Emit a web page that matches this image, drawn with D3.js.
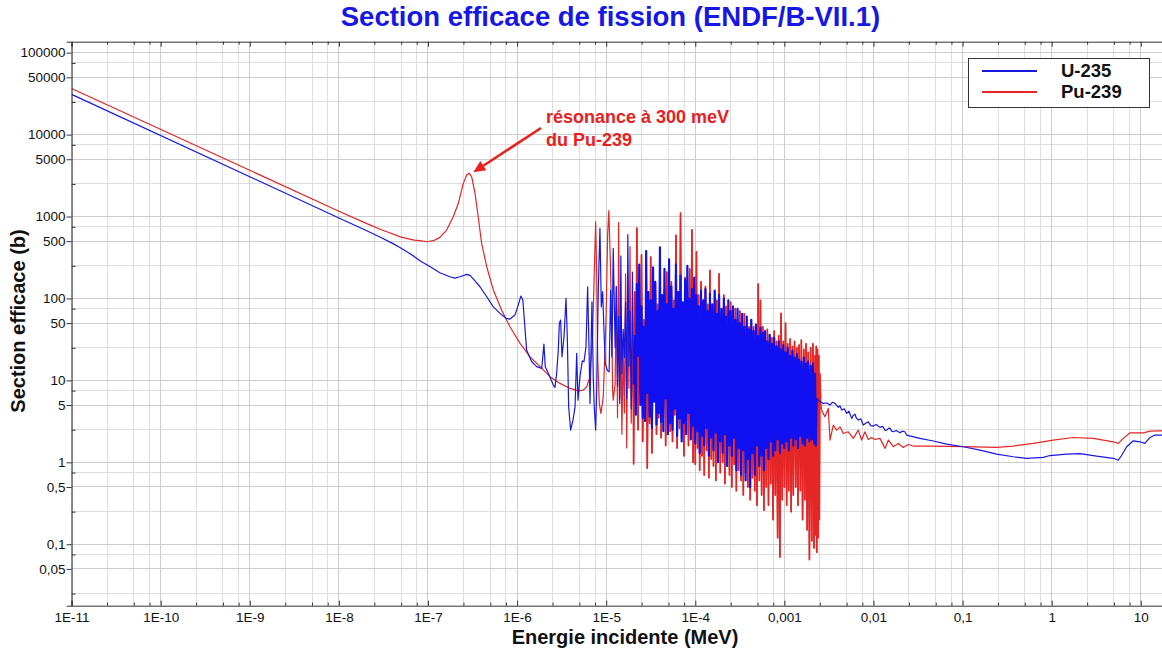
<!DOCTYPE html>
<html><head><meta charset="utf-8">
<script src="https://cdn.jsdelivr.net/npm/d3@7"></script>
<style>
body{margin:0;background:#fff;}
svg{display:block;font-family:"Liberation Sans",Arial,Helvetica,sans-serif;}
</style>
</head><body>
<svg id="chart" width="1162" height="648"></svg>
<script>
// ---------- texts ----------
const titleText = "Section efficace de fission (ENDF/B-VII.1)";
const xTitle = "Energie incidente (MeV)";
const yTitle = "Section efficace (b)";
const seriesNames = ["U-235", "Pu-239"];
const annotationLines = ["résonance à 300 meV", "du Pu-239"];

// ---------- tick labels ----------
const xTickValues = [1e-11,1e-10,1e-9,1e-8,1e-7,1e-6,1e-5,1e-4,1e-3,1e-2,1e-1,1,10];
const xTickLabels = ["1E-11","1E-10","1E-9","1E-8","1E-7","1E-6","1E-5","1E-4","0,001","0,01","0,1","1","10"];
const yTickValues = [100000,50000,10000,5000,1000,500,100,50,10,5,1,0.5,0.1,0.05];
const yTickLabels = ["100000","50000","10000","5000","1000","500","100","50","10","5","1","0,5","0,1","0,05"];

// ---------- data: energy (MeV), cross-section (b) ----------
const u235Thermal = [
[1e-11,31000],[1e-8,960],[2e-8,680],[3e-8,550],[4e-8,470],[5e-8,410],[6.5e-8,345],[8.13e-8,289],[1.06e-7,244],[1.36e-7,206],
[1.76e-7,184],[2.00e-7,177],[2.28e-7,184],[2.72e-7,197],[2.96e-7,191],[3.37e-7,164],[3.83e-7,139],
[4.56e-7,105],[5.41e-7,79],[6.43e-7,65.8],[7.50e-7,57.2],[8.32e-7,56],[9.46e-7,62.7],[1.03e-6,83],
[1.10e-6,107],[1.16e-6,95.7],[1.23e-6,41.1],[1.28e-6,23.4],[1.46e-6,16.9],[1.66e-6,14.7],[1.89e-6,14.0],
[2.00e-6,27.7],[2.07e-6,14.7],[2.24e-6,12.2],[2.55e-6,8.77],[2.66e-6,8.2],[2.78e-6,12.2],[2.90e-6,23.4],
[2.98e-6,49.7],[3.08e-6,54.5],[3.19e-6,19.4],[3.36e-6,34.1],[3.54e-6,100],[3.66e-6,34.1],[3.79e-6,4.76],
[3.99e-6,2.47],[4.24e-6,3.27],[4.47e-6,4.76],[4.67e-6,21.4],[4.82e-6,5.74],[5.08e-6,11.1],[5.39e-6,17.3],
[5.63e-6,16.9],[5.93e-6,25.7],[6.19e-6,139],[6.41e-6,25.7],[6.58e-6,5.24],[6.92e-6,91],[7.16e-6,11.1],
[7.34e-6,4.76],[7.62e-6,2.47],[7.82e-6,7.6],[8.15e-6,126],[8.51e-6,718],[8.81e-6,79],[9.12e-6,121],
[9.44e-6,41],[9.77e-6,16.1],[1.03e-5,13.3],[1.08e-5,12.7],[1.12e-5,126],[1.16e-5,19.4],[1.20e-5,409]
];
const pu239Thermal = [
[1e-11,36500],[1e-8,1160],[2e-8,830],[3e-8,690],[5e-8,560],[7e-8,515],[8.13e-8,507],[9.66e-8,492],
[1.15e-7,507],[1.36e-7,557],[1.62e-7,684],[1.92e-7,994],[2.19e-7,1450],[2.49e-7,2540],[2.72e-7,3210],
[2.91e-7,3370],[3.09e-7,3060],[3.37e-7,1920],[3.66e-7,994],[4.00e-7,471],[4.56e-7,244],[5.41e-7,127],
[6.71e-7,71.7],[8.32e-7,45.1],[1.08e-6,28.3],[1.40e-6,19.4],[1.81e-6,14.7],[2.34e-6,11.1],[3.03e-6,9.19],
[3.93e-6,7.98],[4.86e-6,7.46],[5.53e-6,7.6],[6.04e-6,8.36],[6.58e-6,11.1],[7.05e-6,37.5],[7.43e-6,323],
[7.62e-6,864],[7.82e-6,202],[8.02e-6,19.4],[8.36e-6,5.24],[8.73e-6,3.95],[9.27e-6,6.3],[9.93e-6,49.7],
[1.04e-5,624],[1.07e-5,1180],[1.11e-5,323],[1.15e-5,65.8],[1.18e-5,7.6],[1.20e-5,5.74]
];

// resolved resonance region energies (MeV)
const denseE = [
1.26e-5,1.30e-5,1.34e-5,1.38e-5,1.42e-5,1.46e-5,1.50e-5,1.55e-5,1.60e-5,1.65e-5,
1.70e-5,1.75e-5,1.80e-5,1.85e-5,1.91e-5,1.97e-5,2.03e-5,2.09e-5,2.15e-5,2.21e-5,
2.28e-5,2.35e-5,2.42e-5,2.49e-5,2.57e-5,2.65e-5,2.73e-5,2.81e-5,2.89e-5,2.98e-5,
3.07e-5,3.16e-5,3.26e-5,3.36e-5,3.46e-5,3.56e-5,3.67e-5,3.78e-5,3.89e-5,4.01e-5,
4.13e-5,4.25e-5,4.38e-5,4.51e-5,4.65e-5,4.79e-5,4.93e-5,5.08e-5,5.23e-5,5.39e-5,
5.55e-5,5.72e-5,5.89e-5,6.07e-5,6.25e-5,6.44e-5,6.63e-5,6.83e-5,7.03e-5,7.24e-5,
7.46e-5,7.68e-5,7.91e-5,8.15e-5,8.39e-5,8.64e-5,8.90e-5,9.17e-5,9.45e-5,9.73e-5,
1.00e-4,1.03e-4,1.06e-4,1.09e-4,1.12e-4,1.16e-4,1.19e-4,1.23e-4,1.26e-4,1.30e-4,
1.34e-4,1.38e-4,1.42e-4,1.46e-4,1.51e-4,1.55e-4,1.60e-4,1.65e-4,1.70e-4,1.75e-4,
1.80e-4,1.85e-4,1.91e-4,1.97e-4,2.03e-4,2.09e-4,2.15e-4,2.21e-4,2.28e-4,2.35e-4,
2.42e-4,2.49e-4,2.57e-4,2.65e-4,2.73e-4,2.81e-4,2.89e-4,2.98e-4,3.07e-4,3.16e-4,
3.26e-4,3.36e-4,3.46e-4,3.56e-4,3.67e-4,3.78e-4,3.89e-4,4.01e-4,4.13e-4,4.25e-4,
4.38e-4,4.51e-4,4.65e-4,4.79e-4,4.93e-4,5.08e-4,5.23e-4,5.39e-4,5.55e-4,5.72e-4,
5.89e-4,6.07e-4,6.25e-4,6.44e-4,6.63e-4,6.83e-4,7.03e-4,7.24e-4,7.46e-4,7.68e-4,
7.91e-4,8.15e-4,8.39e-4,8.64e-4,8.90e-4,9.17e-4,9.45e-4,9.73e-4,
1.00e-3,1.03e-3,1.06e-3,1.09e-3,1.12e-3,1.16e-3,1.19e-3,1.23e-3,1.26e-3,1.30e-3,
1.34e-3,1.38e-3,1.42e-3,1.46e-3,1.51e-3,1.55e-3,1.60e-3,1.65e-3,1.70e-3,1.75e-3,
1.80e-3,1.85e-3,1.91e-3,1.97e-3,2.03e-3,2.09e-3,2.15e-3,2.21e-3
];
const u235Dense = [
25,140,8.5,60,5.2,330,12,42,19,90,
6,600,15,70,4.5,210,9,35,3.8,150,
20,260,5,80,3.5,45,3.2,380,7,120,
3.6,95,2.6,240,5.5,160,2.9,70,4,420,
3.1,110,2.4,230,6,85,2.2,300,3,140,
2.5,75,4.5,260,2.1,120,3.4,190,1.8,90,
3,170,2.2,250,4,100,1.9,130,2.8,180,
1.7,110,2.4,80,1.3,125,2.1,95,1.6,130,
2.6,70,1.2,115,2,85,1.4,125,2.3,65,
1,110,1.8,75,1.3,100,2.2,60,0.9,95,
1.6,70,1.2,80,2,55,0.8,75,1.5,50,
0.7,65,1.4,45,0.6,60,1.1,42,0.5,55,
1.3,40,0.7,48,1.6,35,0.9,44,1.2,38,
0.8,40,1.5,30,1.1,36,1.8,28,1.2,33,
1.4,26,1.9,30,1.3,24,1.7,27,1.5,22,
1.8,25,1.4,20,2,23,1.6,19,1.9,21,
1.5,18,2.1,17,1.7,19,1.6,16,2,17,
1.8,15,1.9,16,1.7,12
];
const pu239Dense = [
9,140,3.5,850,6,60,2.2,25,4,200,
1.5,70,8,430,3,35,0.95,120,5,720,
2.5,90,7,340,1.8,55,4,180,0.85,65,
3,320,1.3,40,6,150,2.2,85,3.5,240,
2,60,4.5,130,1.6,210,3,75,2.4,160,
1.8,95,3.8,590,1.5,120,2.6,1100,2,70,
1.2,180,3.2,100,1.6,230,2.5,690,1,140,
0.95,370,1.5,110,0.8,160,1.2,90,0.7,140,
1.4,85,0.65,220,1.1,75,0.9,120,0.6,95,
1.3,200,0.75,70,1,110,0.55,80,1.2,65,
0.7,90,0.5,60,0.95,75,0.45,55,0.8,70,
0.6,50,0.4,65,0.75,45,0.5,45,0.35,55,
0.65,45,0.45,40,0.3,150,0.6,95,0.4,45,
0.26,38,0.5,42,0.3,36,0.55,33,0.2,40,
0.4,30,0.12,35,0.07,66,0.35,30,0.5,50,
0.3,28,0.45,32,0.25,26,0.4,30,0.5,25,
0.3,27,0.45,31,0.2,24,0.35,28,0.15,22,
0.065,25,0.11,28,0.09,20
];

const u235Fast = [
[2.25e-3,1.6],[2.30e-3,6],[2.40e-3,5.75],[2.55e-3,5.5],[2.73e-3,5.24],[3.0e-3,5.3],[3.25e-3,5.0],
[3.45e-3,5.4],[3.70e-3,5.24],[4.03e-3,4.68],[4.2e-3,4.9],[4.40e-3,4.34],[4.7e-3,4.5],[5.00e-3,3.95],
[5.3e-3,4.2],[5.69e-3,3.44],[5.9e-3,3.7],[6.19e-3,3.88],[6.4e-3,3.5],[6.75e-3,3.28],[7.2e-3,3.4],
[7.67e-3,2.85],[8.2e-3,3.0],[8.73e-3,3.12],[9.3e-3,2.8],[9.95e-3,2.77],[1.07e-2,2.9],[1.18e-2,2.67],
[1.27e-2,2.75],[1.35e-2,2.45],[1.41e-2,2.47],[1.47e-2,2.6],[1.53e-2,2.62],[1.60e-2,2.4],[1.67e-2,2.36],
[1.80e-2,2.45],[1.98e-2,2.29],[2.10e-2,2.4],[2.25e-2,2.36],[2.35e-2,2.15],[3.32e-2,1.96],[4.69e-2,1.82],
[6.62e-2,1.67],[0.102,1.55],[0.157,1.41],[0.241,1.26],[0.371,1.17],[0.524,1.12],[0.805,1.15],
[0.957,1.21],[1.47,1.26],[2.08,1.28],[3.20,1.19],[4.91,1.12],[5.59,1.06],[6.11,1.22],[6.95,1.55],
[8.25,1.83],[9.80,1.78],[11.1,1.70],[12.7,2.01],[14.4,2.15],[16.4,2.15],[20,2.15]
];
const pu239Fast = [
[2.25e-3,0.13],[2.28e-3,26],[2.31e-3,0.08],[2.35e-3,24],[2.39e-3,0.12],[2.43e-3,20],[2.47e-3,0.2],
[2.50e-3,12],[2.55e-3,6],[2.61e-3,4.34],[2.85e-3,3.59],[3.11e-3,4.55],[3.25e-3,1.87],[3.54e-3,2.85],
[3.86e-3,2.47],[4.21e-3,2.71],[4.58e-3,2.25],[5.21e-3,2.36],[5.93e-3,1.96],[6.75e-3,2.47],[7.36e-3,1.87],
[8.02e-3,2.36],[8.73e-3,1.90],[9.53e-3,2.01],[1.04e-2,1.90],[1.18e-2,1.96],[1.35e-2,1.48],[1.47e-2,1.87],
[1.67e-2,1.55],[1.90e-2,1.70],[2.16e-2,1.52],[2.45e-2,1.65],[2.80e-2,1.58],[4.31e-2,1.58],[0.102,1.55],
[0.241,1.52],[0.371,1.58],[0.622,1.70],[1.04,1.87],[1.75,2.01],[2.93,1.96],[4.91,1.78],[5.59,1.70],
[6.37,1.96],[7.57,2.29],[10.7,2.29],[12.7,2.40],[16.4,2.42],[20,2.42]
];

// annotation target: Pu-239 resonance peak
const resonancePeak = [2.91e-7, 3370];

// ---------- build ----------
const u235DenseZip = d3.zip(denseE, u235Dense);
const pu239DenseZip = d3.zip(denseE, pu239Dense);
const u235 = [...u235Thermal, ...u235DenseZip, ...u235Fast];
const pu239 = [...pu239Thermal, ...pu239DenseZip, ...pu239Fast];
// the densest part of the resolved resonance region is drawn with a heavier stroke
const u235DenseSeg = [...u235DenseZip.slice(16), u235Fast[0], u235Fast[1]];
const pu239DenseSeg = [...pu239DenseZip.slice(16), ...pu239Fast.slice(0,9)];

const colors = {u:"#1818e0", p:"#e42626"};
const P = {left:71.6, right:1162, top:41.7, bottom:605.7};
const svg = d3.select("#chart");

const x = d3.scaleLog().domain([1e-11, 17.3]).range([P.left, P.right]);
const y = d3.scaleLog().domain([0.01778, 136100]).range([P.bottom, P.top]);

// tick sets
const xMinor = [];
for (let k=-11;k<=1;k++) [2.5,5,7.5].forEach(m=>{const v=m*Math.pow(10,k); if(v<=17.3) xMinor.push(v);});
const yMinor = [];
for (let k=-2;k<=5;k++) [2.5,7.5].forEach(m=>{const v=m*Math.pow(10,k); if(v>=0.01778&&v<=136100) yMinor.push(v);});

// grid
const grid = svg.append("g").attr("shape-rendering","crispEdges");
grid.selectAll(".gxm").data(xMinor).join("line")
  .attr("x1",d=>x(d)).attr("x2",d=>x(d)).attr("y1",P.top).attr("y2",P.bottom)
  .attr("stroke","#dedede").attr("stroke-width",1);
grid.selectAll(".gym").data(yMinor).join("line")
  .attr("y1",d=>y(d)).attr("y2",d=>y(d)).attr("x1",P.left).attr("x2",P.right)
  .attr("stroke","#dedede").attr("stroke-width",1);
grid.selectAll(".gx").data(xTickValues).join("line")
  .attr("x1",d=>x(d)).attr("x2",d=>x(d)).attr("y1",P.top).attr("y2",P.bottom)
  .attr("stroke","#cdcdcd").attr("stroke-width",1);
grid.selectAll(".gy").data(yTickValues).join("line")
  .attr("y1",d=>y(d)).attr("y2",d=>y(d)).attr("x1",P.left).attr("x2",P.right)
  .attr("stroke","#cdcdcd").attr("stroke-width",1);

// clip
svg.append("clipPath").attr("id","clip").append("rect")
  .attr("x",P.left).attr("y",P.top).attr("width",P.right-P.left).attr("height",P.bottom-P.top);

const line = d3.line().x(d=>x(d[0])).y(d=>y(d[1]));
const lines = svg.append("g").attr("clip-path","url(#clip)");
lines.append("path").attr("d",line(pu239)).attr("fill","none")
  .attr("stroke",colors.p).attr("stroke-width",1.2).attr("stroke-linejoin","round");
lines.append("path").attr("d",line(pu239DenseSeg)).attr("fill","none")
  .attr("stroke",colors.p).attr("stroke-width",1.7).attr("stroke-linejoin","round");
lines.append("path").attr("d",line(u235)).attr("fill","none")
  .attr("stroke",colors.u).attr("stroke-width",1.2).attr("stroke-linejoin","round");
lines.append("path").attr("d",line(u235DenseSeg)).attr("fill","none")
  .attr("stroke","#1010f0").attr("stroke-width",2.1).attr("stroke-linejoin","round");

// axes
const fs = "13.5px";
const yAxis = svg.append("g").attr("transform",`translate(${P.left},0)`)
  .call(d3.axisLeft(y).tickValues(yTickValues).tickFormat((d,i)=>yTickLabels[i]).tickSize(5).tickPadding(1));
yAxis.selectAll("text").attr("font-size",fs).attr("fill","#111").attr("font-family",'"Liberation Sans",Arial,sans-serif');
const yMinorAx = svg.append("g").attr("transform",`translate(${P.left},0)`)
  .call(d3.axisRight(y).tickValues(yMinor).tickFormat("").tickSize(4));
yMinorAx.select(".domain").remove();

const xAxis = svg.append("g").attr("transform",`translate(0,${P.bottom})`)
  .call(d3.axisBottom(x).tickValues(xTickValues).tickFormat((d,i)=>xTickLabels[i]).tickSize(-5).tickPadding(7));
xAxis.selectAll("text").attr("font-size",fs).attr("fill","#111").attr("font-family",'"Liberation Sans",Arial,sans-serif');
const xMinorAx = svg.append("g").attr("transform",`translate(0,${P.bottom})`)
  .call(d3.axisBottom(x).tickValues(xMinor).tickFormat("").tickSize(-3));
xMinorAx.select(".domain").remove();

// top frame with ticks
const topAx = svg.append("g").attr("transform",`translate(0,${P.top})`)
  .call(d3.axisTop(x).tickValues(xTickValues).tickFormat("").tickSize(-5));
const topMinor = svg.append("g").attr("transform",`translate(0,${P.top})`)
  .call(d3.axisTop(x).tickValues(xMinor).tickFormat("").tickSize(-3));
topMinor.select(".domain").remove();
svg.selectAll(".domain").attr("stroke","#333");
svg.selectAll(".tick line").attr("stroke","#333");

// titles
svg.append("text").attr("x",610.5).attr("y",26).attr("text-anchor","middle")
  .attr("font-size","27.5px").attr("font-weight","bold").attr("fill","#1717e3").text(titleText);
svg.append("text").attr("x",625).attr("y",644).attr("text-anchor","middle")
  .attr("font-size","20px").attr("font-weight","bold").attr("fill","#111").text(xTitle);
svg.append("text").attr("transform","translate(25,321) rotate(-90)").attr("text-anchor","middle")
  .attr("font-size","20px").attr("font-weight","bold").attr("fill","#111").text(yTitle);

// legend
const lg = svg.append("g");
lg.append("rect").attr("x",968.5).attr("y",58.5).attr("width",181).attr("height",49)
  .attr("fill","#fff").attr("stroke","#333").attr("stroke-width",1);
[[colors.u,71,77,seriesNames[0]],[colors.p,92,98,seriesNames[1]]].forEach(([c,ly,ty,t])=>{
  lg.append("line").attr("x1",982).attr("x2",1037).attr("y1",ly).attr("y2",ly)
    .attr("stroke",c).attr("stroke-width",2.2);
  lg.append("text").attr("x",1061).attr("y",ty).attr("font-size","18.5px").attr("font-weight","bold")
    .attr("fill","#111").text(t);
});

// annotation
const ann = svg.append("g");
const ac = "#e8201e";
annotationLines.forEach((t,i)=>{
  ann.append("text").attr("x",546).attr("y",123+i*22.5).attr("font-size","18px").attr("font-weight","bold")
    .attr("fill",ac).text(t);
});
const tip = [x(resonancePeak[0])+4, y(resonancePeak[1])-1];
const start = [541,128];
const dx = tip[0]-start[0], dy = tip[1]-start[1], L = Math.hypot(dx,dy);
const ux = dx/L, uy = dy/L, hl = 12, hw = 5.5;
const bx = tip[0]-hl*ux, by = tip[1]-hl*uy;
ann.append("line").attr("x1",start[0]).attr("y1",start[1]).attr("x2",bx).attr("y2",by)
  .attr("stroke",ac).attr("stroke-width",2.6);
ann.append("path").attr("d",`M${tip[0]},${tip[1]}L${bx-hw*uy},${by+hw*ux}L${bx+hw*uy},${by-hw*ux}Z`).attr("fill",ac);
</script>
</body></html>
